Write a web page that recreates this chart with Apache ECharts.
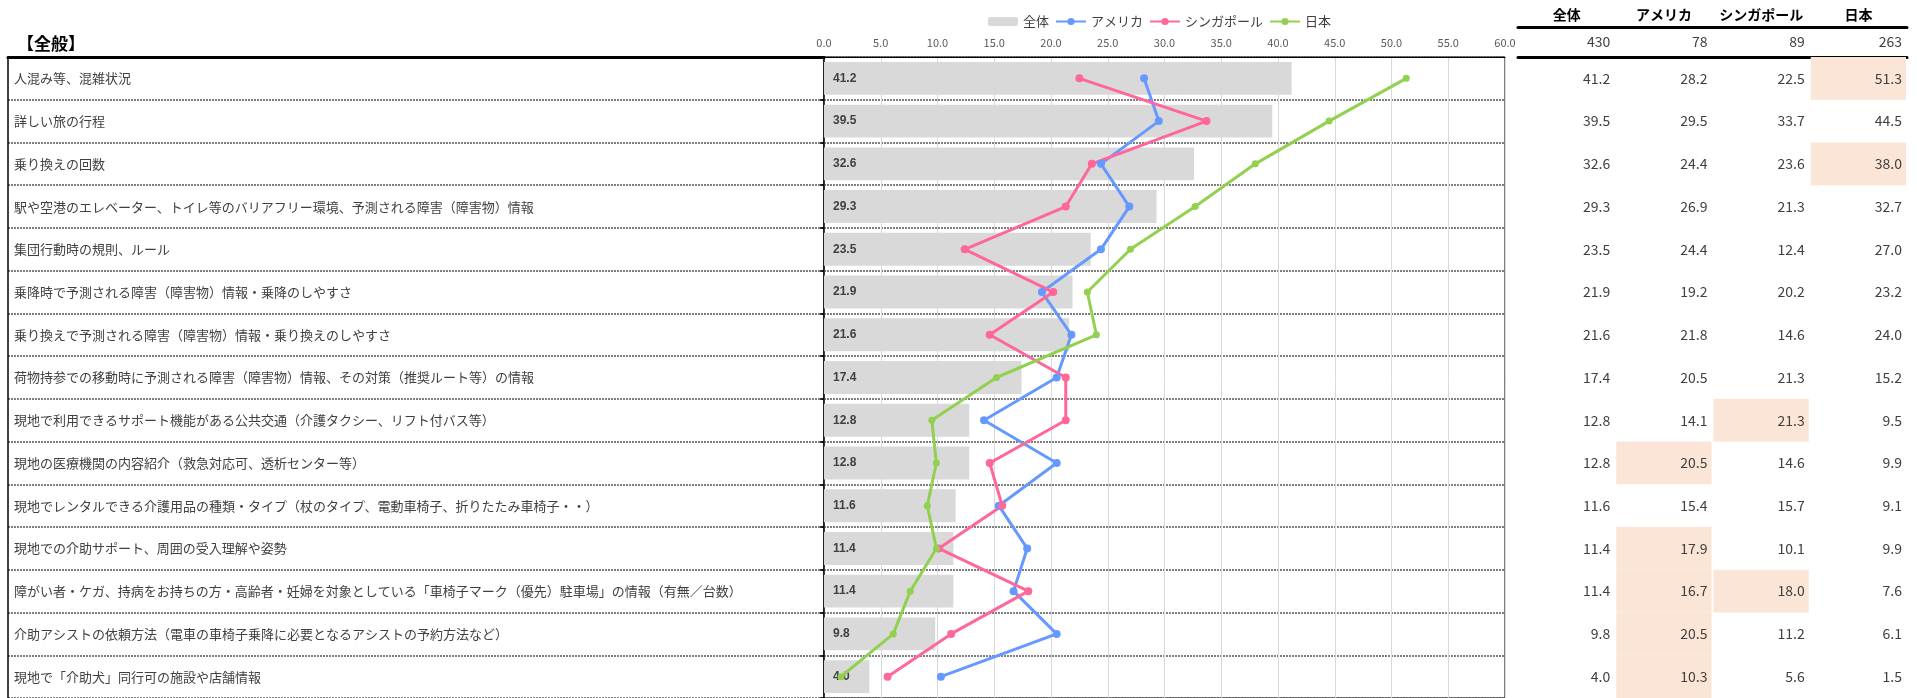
<!DOCTYPE html>
<html>
<head>
<meta charset="utf-8">
<script src="https://cdn.jsdelivr.net/npm/echarts@6/dist/echarts.min.js"></script>
<style>
html,body{margin:0;padding:0;background:#fff;}
#chart{width:1917px;height:698px;}
</style>
</head>
<body>
<div id="chart"></div>
<script>
const title = '【全般】';
const categories = [
  '人混み等、混雑状況',
  '詳しい旅の行程',
  '乗り換えの回数',
  '駅や空港のエレベーター、トイレ等のバリアフリー環境、予測される障害（障害物）情報',
  '集団行動時の規則、ルール',
  '乗降時で予測される障害（障害物）情報・乗降のしやすさ',
  '乗り換えで予測される障害（障害物）情報・乗り換えのしやすさ',
  '荷物持参での移動時に予測される障害（障害物）情報、その対策（推奨ルート等）の情報',
  '現地で利用できるサポート機能がある公共交通（介護タクシー、リフト付バス等）',
  '現地の医療機関の内容紹介（救急対応可、透析センター等）',
  '現地でレンタルできる介護用品の種類・タイプ（杖のタイプ、電動車椅子、折りたたみ車椅子・・）',
  '現地での介助サポート、周囲の受入理解や姿勢',
  '障がい者・ケガ、持病をお持ちの方・高齢者・妊婦を対象としている「車椅子マーク（優先）駐車場」の情報（有無／台数）',
  '介助アシストの依頼方法（電車の車椅子乗降に必要となるアシストの予約方法など）',
  '現地で「介助犬」同行可の施設や店舗情報'
];
const seriesNames = ['全体', 'アメリカ', 'シンガポール', '日本'];
const sampleSizes = [430, 78, 89, 263];
const totalValues = [41.2, 39.5, 32.6, 29.3, 23.5, 21.9, 21.6, 17.4, 12.8, 12.8, 11.6, 11.4, 11.4, 9.8, 4.0];
const usaValues = [28.2, 29.5, 24.4, 26.9, 24.4, 19.2, 21.8, 20.5, 14.1, 20.5, 15.4, 17.9, 16.7, 20.5, 10.3];
const singaporeValues = [22.5, 33.7, 23.6, 21.3, 12.4, 20.2, 14.6, 21.3, 21.3, 14.6, 15.7, 10.1, 18.0, 11.2, 5.6];
const japanValues = [51.3, 44.5, 38.0, 32.7, 27.0, 23.2, 24.0, 15.2, 9.5, 9.9, 9.1, 9.9, 7.6, 6.1, 1.5];
// highlighted table cells: [row, column]
const highlightCells = [[0, 3], [2, 3], [8, 2], [9, 1], [11, 1], [12, 1], [12, 2], [13, 1], [14, 1]];
const xTicks = { min: 0, max: 60, interval: 5 };

const colors = { total: '#D9D9D9', usa: '#6699FF', sg: '#FF6699', jp: '#92D050' };
const FONT = '"Noto Sans CJK JP", "Noto Sans", sans-serif';
const NUMFONT = '"Liberation Sans Narrow", "Liberation Sans", sans-serif';

const allSeries = [totalValues, usaValues, singaporeValues, japanValues];
const isHL = (r, c) => highlightCells.some(h => h[0] === r && h[1] === c);
const tableData = [];
categories.forEach((_, r) => {
  allSeries.forEach((vals, c) => {
    tableData.push({ value: [c, r], label: vals[r].toFixed(1), hl: isHL(r, c) ? 1 : 0 });
  });
});
const nData = sampleSizes.map((n, c) => ({ value: [c, 0], label: String(n), hl: 0 }));

function cellRenderer(data) {
  return function (params, api) {
    const item = data[params.dataIndex];
    const pt = api.coord([api.value(0), api.value(1)]);
    const sz = api.size([1, 1]);
    const children = [];
    if (item.hl) {
      children.push({
        type: 'rect',
        shape: { x: pt[0] - sz[0] / 2 + 1, y: pt[1] - sz[1] / 2, width: sz[0] - 2, height: sz[1] },
        style: { fill: '#FBE5D6' }
      });
    }
    children.push({
      type: 'text',
      style: {
        text: item.label, x: pt[0] + sz[0] / 2 - 5, y: pt[1],
        align: 'right', verticalAlign: 'middle',
        fill: '#404040', fontSize: 14, fontFamily: FONT
      }
    });
    return { type: 'group', children: children };
  };
}

const sepLine = { show: true, lineStyle: { color: '#555', width: 1.5, type: [2, 1] } };

const chart = echarts.init(document.getElementById('chart'));
chart.setOption({
  animation: false,
  title: {
    text: title, left: 12, top: 30,
    textStyle: { fontSize: 17, fontWeight: 'bold', color: '#000', fontFamily: FONT }
  },
  legend: {
    data: seriesNames, left: 983, top: 10, itemWidth: 30, itemHeight: 9, itemGap: 6,
    textStyle: { fontSize: 13, color: '#404040', fontFamily: FONT }
  },
  grid: [
    { left: 8, top: 57, width: 816, bottom: 0 },
    { left: 824, top: 57, right: 412, bottom: 0, show: true, borderColor: '#000', borderWidth: 1 },
    { left: 1518, top: 57, right: 10, bottom: 0 },
    { left: 1518, top: 27, right: 10, height: 30 }
  ],
  xAxis: [
    { gridIndex: 0, type: 'value', position: 'top', min: 0, max: 1,
      axisLine: { show: true, lineStyle: { color: '#000', width: 3 } },
      axisTick: { show: false }, axisLabel: { show: false }, splitLine: { show: false } },
    { gridIndex: 1, type: 'value', position: 'top', min: xTicks.min, max: xTicks.max, interval: xTicks.interval,
      axisLine: { show: true, lineStyle: { color: '#000', width: 1 } },
      axisTick: { show: false },
      axisLabel: { margin: 9, fontSize: 11, color: '#595959', fontFamily: FONT, formatter: v => v.toFixed(1) },
      splitLine: { show: true, lineStyle: { color: '#D9D9D9', width: 1 } } },
    { gridIndex: 2, type: 'category', position: 'top', data: seriesNames,
      axisLine: { show: true, lineStyle: { color: '#000', width: 3 } },
      axisTick: { show: false }, axisLabel: { show: false } },
    { gridIndex: 3, type: 'category', position: 'top', data: seriesNames,
      axisLine: { show: true, lineStyle: { color: '#000', width: 3 } },
      axisTick: { show: false },
      axisLabel: { interval: 0, margin: 5, fontSize: 14, fontWeight: 'bold', color: '#000', fontFamily: FONT } }
  ],
  yAxis: [
    { gridIndex: 0, type: 'category', inverse: true, data: categories,
      axisLine: { show: true, lineStyle: { color: '#000', width: 1.5 } },
      axisTick: { show: false },
      axisLabel: { inside: true, margin: 6, fontSize: 13, color: '#404040', fontFamily: FONT },
      splitLine: sepLine },
    { gridIndex: 1, type: 'category', inverse: true, data: categories,
      axisLine: { show: true, lineStyle: { color: '#000', width: 1.5 } },
      axisTick: { show: true, length: 4, lineStyle: { color: '#000', width: 1.5 } },
      axisLabel: { show: false },
      splitLine: sepLine },
    { gridIndex: 2, type: 'category', inverse: true, data: categories, show: false },
    { gridIndex: 3, type: 'category', data: ['N'], show: false }
  ],
  series: [
    { name: seriesNames[0], type: 'bar', xAxisIndex: 1, yAxisIndex: 1, data: totalValues,
      barCategoryGap: '23%', itemStyle: { color: colors.total },
      label: { show: true, position: 'insideLeft', distance: 9, fontSize: 12, fontWeight: 'bold',
        color: '#404040', fontFamily: NUMFONT, formatter: p => p.value.toFixed(1) }, z: 2 },
    { name: seriesNames[1], type: 'line', xAxisIndex: 1, yAxisIndex: 1,
      data: usaValues.map((v, i) => [v, i]), symbol: 'circle', symbolSize: 8,
      itemStyle: { color: colors.usa }, lineStyle: { color: colors.usa, width: 3 }, z: 4 },
    { name: seriesNames[2], type: 'line', xAxisIndex: 1, yAxisIndex: 1,
      data: singaporeValues.map((v, i) => [v, i]), symbol: 'circle', symbolSize: 8,
      itemStyle: { color: colors.sg }, lineStyle: { color: colors.sg, width: 3 }, z: 4 },
    { name: seriesNames[3], type: 'line', xAxisIndex: 1, yAxisIndex: 1,
      data: japanValues.map((v, i) => [v, i]), symbol: 'circle', symbolSize: 7,
      itemStyle: { color: colors.jp }, lineStyle: { color: colors.jp, width: 3 }, z: 4 },
    { type: 'custom', xAxisIndex: 2, yAxisIndex: 2, data: tableData,
      renderItem: cellRenderer(tableData), encode: { x: 0, y: 1 }, silent: true },
    { type: 'custom', xAxisIndex: 3, yAxisIndex: 3, data: nData,
      renderItem: cellRenderer(nData), encode: { x: 0, y: 1 }, silent: true }
  ]
});
</script>
</body>
</html>
